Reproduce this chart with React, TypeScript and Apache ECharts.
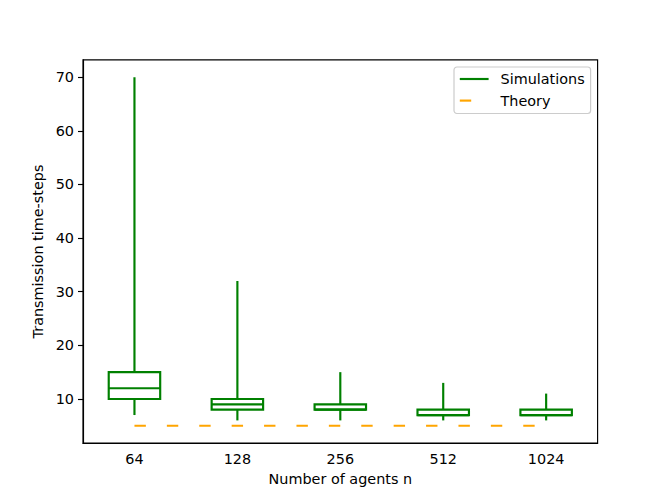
import React, { useEffect, useRef } from "react";
import * as echarts from "echarts";

const categories = ["64", "128", "256", "512", "1024"];
// [low whisker, Q1, median, Q3, high whisker]
const boxStats = [
  [7, 10, 12, 15, 70],
  [6, 8, 9, 10, 32],
  [6, 8, 8, 9, 15],
  [6, 7, 7, 8, 13],
  [6, 7, 7, 8, 11],
];
const theory = [5, 5, 5, 5, 5];
const yTicks = [10, 20, 30, 40, 50, 60, 70];

const GREEN = "#008000";
const ORANGE = "#FFA500";
const FONT = "DejaVu Sans";

export default function App() {
  const ref = useRef<HTMLDivElement>(null);
  useEffect(() => {
    if (!ref.current) return;
    const chart = echarts.init(ref.current, null, { renderer: "svg" });
    const boxData = boxStats.map((s, i) => [i, ...s]);
    chart.setOption({
      animation: false,
      backgroundColor: "#ffffff",
      grid: {
        left: 83,
        right: 66.4,
        top: 59.8,
        bottom: 54.8,
        show: true,
        borderColor: "#000000",
        borderWidth: 1.15,
        backgroundColor: "transparent",
      },
      xAxis: {
        type: "category",
        data: categories,
        boundaryGap: true,
        name: "Number of agents n",
        nameLocation: "middle",
        nameGap: 29,
        nameTextStyle: { fontFamily: FONT, fontSize: 14.4, color: "#000" },
        axisLine: { lineStyle: { color: "#000", width: 1.15 } },
        axisTick: { alignWithLabel: true, length: 5, lineStyle: { color: "#000", width: 1.15 } },
        axisLabel: { fontFamily: FONT, fontSize: 14.4, color: "#000", margin: 9 },
        splitLine: { show: false },
      },
      yAxis: {
        type: "value",
        min: 1.75,
        max: 73.25,
        name: "Transmission time-steps",
        nameLocation: "middle",
        nameGap: 34,
        nameTextStyle: { fontFamily: FONT, fontSize: 14.4, color: "#000" },
        axisLine: { show: true, lineStyle: { color: "#000", width: 1.15 } },
        axisTick: { show: true, length: 5, customValues: yTicks, lineStyle: { color: "#000", width: 1.15 } },
        axisLabel: { fontFamily: FONT, fontSize: 14.4, color: "#000", margin: 9, customValues: yTicks },
        splitLine: { show: false },
      },
      series: [
        {
          type: "custom",
          name: "Simulations",
          data: boxData,
          encode: { x: 0, y: [1, 2, 3, 4, 5] },
          renderItem: (params: any, api: any) => {
            const idx = api.value(0);
            const lo = api.value(1);
            const q1 = api.value(2);
            const med = api.value(3);
            const q3 = api.value(4);
            const hi = api.value(5);
            const bw = api.size([1, 0])[0] * 0.5;
            const pLo = api.coord([idx, lo]);
            const pQ1 = api.coord([idx, q1]);
            const pMed = api.coord([idx, med]);
            const pQ3 = api.coord([idx, q3]);
            const pHi = api.coord([idx, hi]);
            const x = pQ1[0];
            const style = { stroke: GREEN, lineWidth: 2.16, fill: "none" };
            return {
              type: "group",
              children: [
                { type: "line", shape: { x1: x, y1: pQ1[1], x2: x, y2: pLo[1] }, style },
                { type: "line", shape: { x1: x, y1: pQ3[1], x2: x, y2: pHi[1] }, style },
                {
                  type: "rect",
                  shape: { x: x - bw / 2, y: pQ3[1], width: bw, height: pQ1[1] - pQ3[1] },
                  style: { stroke: GREEN, lineWidth: 2.16, fill: "#ffffff" },
                },
                { type: "line", shape: { x1: x - bw / 2, y1: pMed[1], x2: x + bw / 2, y2: pMed[1] }, style },
              ],
            };
          },
          z: 3,
        },
        {
          type: "line",
          name: "Theory",
          data: theory,
          symbol: "none",
          lineStyle: { color: ORANGE, width: 2.16, type: [11.4, 21], cap: "butt" },
          z: 2,
        },
      ],
      graphic: [
        {
          type: "rect",
          shape: { x: 454, y: 67, width: 136.6, height: 46.5, r: 2.9 },
          style: { fill: "rgba(255,255,255,0.8)", stroke: "#cccccc", lineWidth: 1.2 },
          z: 10,
        },
        {
          type: "line",
          shape: { x1: 459.8, y1: 79, x2: 488.6, y2: 79 },
          style: { stroke: GREEN, lineWidth: 2.16 },
          z: 11,
        },
        {
          type: "line",
          shape: { x1: 459.8, y1: 100.6, x2: 471.2, y2: 100.6 },
          style: { stroke: ORANGE, lineWidth: 2.16 },
          z: 11,
        },
        {
          type: "text",
          x: 500.5,
          y: 79,
          style: { text: "Simulations", fontFamily: FONT, fontSize: 14.4, fill: "#000", verticalAlign: "middle", align: "left" },
          z: 11,
        },
        {
          type: "text",
          x: 500.5,
          y: 100.6,
          style: { text: "Theory", fontFamily: FONT, fontSize: 14.4, fill: "#000", verticalAlign: "middle", align: "left" },
          z: 11,
        },
      ],
    });
    return () => chart.dispose();
  }, []);
  return (
    <div
      ref={ref}
      style={{ position: "absolute", left: 0, top: 0, width: 664, height: 498 }}
    />
  );
}
